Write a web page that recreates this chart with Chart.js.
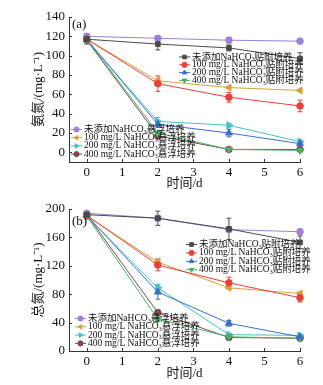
<!DOCTYPE html>
<html>
<head>
<meta charset="utf-8">
<script src="https://cdn.jsdelivr.net/npm/chart.js@4.4.0/dist/chart.umd.min.js"></script>
<style>
  html, body { margin: 0; padding: 0; background: #fff; }
  #wrap { position: relative; width: 323px; height: 385px; }
  .box { position: absolute; left: 0; width: 323px; }
</style>
</head>
<body>
<div id="wrap">
  <div class="box" style="top:0;height:192px"><canvas id="ca" width="323" height="192"></canvas></div>
  <div class="box" style="top:192px;height:193px"><canvas id="cb" width="323" height="193"></canvas></div>
</div>
<script>
// Sampling days and axis ticks
const days = [0, 2, 4, 6];
const xTicks = [0, 1, 2, 3, 4, 5, 6];
const yTicksA = [0, 20, 40, 60, 80, 100, 120, 140];
const yTicksB = [0, 40, 80, 120, 160, 200];

// Series names (attached culture first, then suspended culture)
const seriesNames = [
  '未添加NaHCO₃贴附培养',
  '100 mg/L NaHCO₃贴附培养',
  '200 mg/L NaHCO₃贴附培养',
  '400 mg/L NaHCO₃贴附培养',
  '未添加NaHCO₃悬浮培养',
  '100 mg/L NaHCO₃悬浮培养',
  '200 mg/L NaHCO₃悬浮培养',
  '400 mg/L NaHCO₃悬浮培养'
];

// (a) ammonia nitrogen, mg/L
const nh4AttCtrl = [117, 112, 108, 97];
const nh4Att100  = [117, 71, 57, 48];
const nh4Att200  = [117, 29, 20, 9];
const nh4Att400  = [117, 20, 3, 2];
const nh4SusCtrl = [120, 118, 116, 115];
const nh4Sus100  = [117, 74, 67, 64];
const nh4Sus200  = [116, 32, 28, 11];
const nh4Sus400  = [116, 17, 3, 3];
// (a) standard deviations
const nh4AttCtrlErr = [5, 6, 3, 6];
const nh4Att100Err  = [3, 8, 5, 6];
const nh4Att200Err  = [3, 3, 4, 2];
const nh4Att400Err  = [2, 2, 1, 1];
const nh4SusCtrlErr = [3, 2, 3, 2];
const nh4Sus100Err  = [2, 2, 1, 1];
const nh4Sus200Err  = [2, 4, 2, 2];
const nh4Sus400Err  = [2, 2, 1, 1];

// (b) total nitrogen, mg/L
const tnAttCtrl = [192, 187, 172, 153];
const tnAtt100  = [191, 121, 96, 75];
const tnAtt200  = [191, 83, 39, 20];
const tnAtt400  = [190, 45, 20, 18];
const tnSusCtrl = [194, 187, 171, 168];
const tnSus100  = [190, 125, 89, 81];
const tnSus200  = [190, 89, 23, 22];
const tnSus400  = [192, 54, 19, 18];
// (b) standard deviations
const tnAttCtrlErr = [3, 10, 15, 9];
const tnAtt100Err  = [3, 8, 8, 6];
const tnAtt200Err  = [3, 10, 4, 2];
const tnAtt400Err  = [2, 3, 2, 2];
const tnSusCtrlErr = [3, 4, 4, 3];
const tnSus100Err  = [2, 5, 2, 2];
const tnSus200Err  = [2, 5, 2, 2];
const tnSus400Err  = [3, 3, 2, 2];

const FONT = '"Liberation Serif", "Noto Sans CJK SC", serif';
Chart.defaults.font.family = FONT;
Chart.defaults.color = '#111';

// Per-series look: colour, marker and marker rotation
const styles = [
  { color: '#4a4a4a', shape: 'rect', rot: 0 },
  { color: '#e8413c', shape: 'circle', rot: 0 },
  { color: '#3a6fc8', shape: 'triangle', rot: 0 },
  { color: '#4cae6a', shape: 'triangle', rot: 180 },
  { color: '#9a82d6', shape: 'circle', rot: 0 },
  { color: '#d4a23a', shape: 'triangle', rot: -90 },
  { color: '#3ec3c9', shape: 'triangle', rot: 90 },
  { color: '#7a4a4e', shape: 'circle', rot: 0 }
];

function buildDatasets(series, errs) {
  return series.map((vals, i) => ({
    label: seriesNames[i],
    data: days.map((d, k) => ({ x: d, y: vals[k] })),
    errors: errs[i],
    borderColor: styles[i].color,
    backgroundColor: styles[i].color,
    pointStyle: styles[i].shape,
    pointRotation: styles[i].rot,
    pointRadius: styles[i].shape === 'triangle' ? 4 : 3.3,
    borderWidth: 1,
    pointBorderWidth: 1,
    tension: 0,
    clip: false
  }));
}

// Draws text, turning "₃" into a small lowered 3
function drawRich(ctx, text, x, y, size) {
  const parts = text.split('₃');
  let cx = x;
  parts.forEach((p, i) => {
    ctx.font = size + 'px ' + FONT;
    ctx.fillText(p, cx, y);
    cx += ctx.measureText(p).width;
    if (i < parts.length - 1) {
      ctx.font = (size * 0.62) + 'px ' + FONT;
      ctx.fillText('3', cx, y + size * 0.3);
      cx += ctx.measureText('3').width;
    }
  });
}

// Vertical error bars with caps
const errorBars = {
  id: 'errorBars',
  beforeDatasetsDraw(chart) {
    const { ctx, scales: { x, y } } = chart;
    chart.data.datasets.forEach(ds => {
      ctx.save();
      ctx.strokeStyle = ds.borderColor;
      ctx.lineWidth = 1;
      ds.data.forEach((p, k) => {
        const e = ds.errors[k];
        if (!e) return;
        const px = x.getPixelForValue(p.x);
        const y1 = y.getPixelForValue(p.y + e);
        const y2 = y.getPixelForValue(p.y - e);
        ctx.beginPath();
        ctx.moveTo(px, y1); ctx.lineTo(px, y2);
        ctx.moveTo(px - 2.5, y1); ctx.lineTo(px + 2.5, y1);
        ctx.moveTo(px - 2.5, y2); ctx.lineTo(px + 2.5, y2);
        ctx.stroke();
      });
      ctx.restore();
    });
  }
};

// Inward tick marks, y-axis title, panel tag and the two legend blocks
const decorations = {
  id: 'decorations',
  afterDraw(chart, args, opts) {
    const { ctx, chartArea: a, scales: { x, y } } = chart;
    ctx.save();
    ctx.strokeStyle = '#333';
    ctx.lineWidth = 1;
    ctx.beginPath();
    x.ticks.forEach(t => {
      const px = Math.round(x.getPixelForValue(t.value)) + 0.5;
      ctx.moveTo(px, a.bottom); ctx.lineTo(px, a.bottom - 3);
    });
    y.ticks.forEach(t => {
      const py = Math.round(y.getPixelForValue(t.value)) + 0.5;
      ctx.moveTo(a.left, py); ctx.lineTo(a.left + 3, py);
    });
    ctx.stroke();

    ctx.fillStyle = '#111';
    ctx.textBaseline = 'middle';

    // rotated y-axis title beside the tick labels
    ctx.save();
    ctx.translate(opts.yTitleX, (a.top + a.bottom) / 2);
    ctx.rotate(-Math.PI / 2);
    ctx.textAlign = 'center';
    ctx.font = '13px ' + FONT;
    ctx.fillText(opts.yTitle, 0, 0);
    ctx.restore();

    ctx.textAlign = 'left';
    ctx.font = '13px ' + FONT;
    ctx.fillText(opts.tag, opts.tagX, opts.tagY);

    const dsets = chart.data.datasets;
    opts.groups.forEach(g => {
      g.items.forEach((idx, r) => {
        const ds = dsets[idx];
        const ly = g.y + r * g.step;
        ctx.strokeStyle = ds.borderColor;
        ctx.fillStyle = ds.backgroundColor;
        ctx.beginPath();
        ctx.moveTo(g.x, ly); ctx.lineTo(g.x + 11, ly);
        ctx.stroke();
        Chart.helpers.drawPoint(ctx, {
          pointStyle: ds.pointStyle,
          rotation: ds.pointRotation,
          radius: 2.6,
          borderWidth: 1
        }, g.x + 5.5, ly);
        ctx.fillStyle = '#111';
        drawRich(ctx, ds.label, g.x + 13, ly, 9.5);
      });
    });
    ctx.restore();
  }
};

function makeChart(id, series, errs, yMin, yMax, yTicks, plotH, xTitlePad, deco) {
  return new Chart(document.getElementById(id), {
    type: 'line',
    data: { datasets: buildDatasets(series, errs) },
    plugins: [errorBars, decorations],
    options: {
      responsive: false,
      animation: false,
      devicePixelRatio: 1,
      layout: { padding: { top: 17, right: 23, left: 0, bottom: 0 } },
      plugins: { legend: { display: false }, tooltip: { enabled: false }, decorations: deco },
      scales: {
        x: {
          type: 'linear', min: -0.5, max: 6,
          afterBuildTicks: s => { s.ticks = xTicks.map(v => ({ value: v })); },
          afterFit: s => { s.height = s.chart.height - 17 - plotH; },
          grid: { display: false, drawTicks: false },
          border: { color: '#333', width: 1 },
          ticks: { font: { size: 13 }, padding: 3, color: '#111' },
          title: { display: true, text: '时间/d', font: { size: 13 }, color: '#111', padding: { top: 0, bottom: xTitlePad } }
        },
        y: {
          type: 'linear', min: yMin, max: yMax,
          afterBuildTicks: s => { s.ticks = yTicks.map(v => ({ value: v })); },
          afterFit: s => { s.width = 69; },
          grid: { display: false, drawTicks: false },
          border: { color: '#333', width: 1 },
          ticks: { font: { size: 13 }, padding: 4, color: '#111' }
        }
      }
    }
  });
}

makeChart('ca',
  [nh4AttCtrl, nh4Att100, nh4Att200, nh4Att400, nh4SusCtrl, nh4Sus100, nh4Sus200, nh4Sus400],
  [nh4AttCtrlErr, nh4Att100Err, nh4Att200Err, nh4Att400Err, nh4SusCtrlErr, nh4Sus100Err, nh4Sus200Err, nh4Sus400Err],
  -10, 140, yTicksA, 145, 1,
  {
    yTitle: '氨氮/(mg·L⁻¹)', yTitleX: 39,
    tag: '(a)', tagX: 72, tagY: 25,
    groups: [
      { items: [0, 1, 2, 3], x: 179, y: 57, step: 7.8 },
      { items: [4, 5, 6, 7], x: 71, y: 129.5, step: 8.2 }
    ]
  });

makeChart('cb',
  [tnAttCtrl, tnAtt100, tnAtt200, tnAtt400, tnSusCtrl, tnSus100, tnSus200, tnSus400],
  [tnAttCtrlErr, tnAtt100Err, tnAtt200Err, tnAtt400Err, tnSusCtrlErr, tnSus100Err, tnSus200Err, tnSus400Err],
  0, 200, yTicksB, 142, 4,
  {
    yTitle: '总氮/(mg·L⁻¹)', yTitleX: 39,
    tag: '(b)', tagX: 72, tagY: 30,
    groups: [
      { items: [0, 1, 2, 3], x: 186, y: 52.5, step: 8.4 },
      { items: [4, 5, 6, 7], x: 75, y: 126.5, step: 8.3 }
    ]
  });
</script>
</body>
</html>
